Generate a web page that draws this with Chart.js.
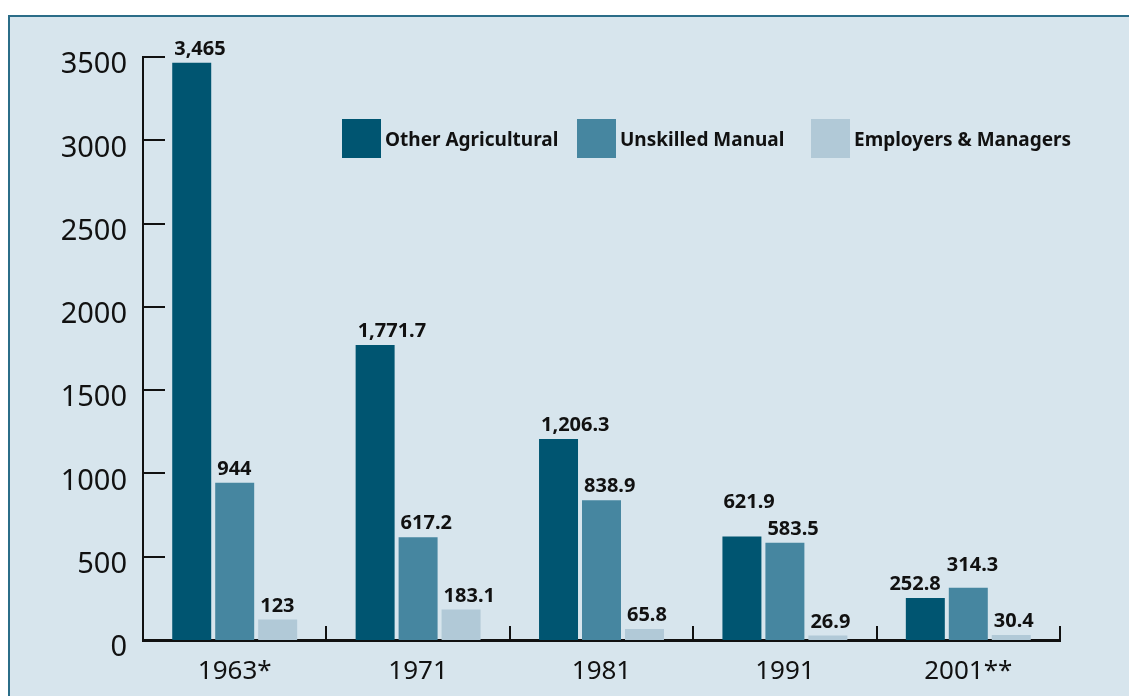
<!DOCTYPE html>
<html>
<head>
<meta charset="utf-8">
<script src="https://cdn.jsdelivr.net/npm/chart.js@4.4.1/dist/chart.umd.min.js"></script>
<style>
  html, body { margin: 0; padding: 0; background: #ffffff; overflow: hidden; }
  #panel {
    position: absolute; left: 8px; top: 15px; width: 1140px; height: 700px;
    background: #d7e5ed; border-top: 2px solid #2b6d88; border-left: 2px solid #2b6d88;
  }
  #chart { position: absolute; left: 0; top: 0; }
</style>
</head>
<body>
<div id="panel"></div>
<canvas id="chart" width="1129" height="696"></canvas>
<script>
// Census years (x categories)
const years = ['1963*', '1971', '1981', '1991', '2001**'];

const otherAgricultural = [3465, 1771.7, 1206.3, 621.9, 252.8];
const unskilledManual = [944, 617.2, 838.9, 583.5, 314.3];
const employersManagers = [123, 183.1, 65.8, 26.9, 30.4];

// Y axis ticks
const yTicks = [0, 500, 1000, 1500, 2000, 2500, 3000, 3500];

const colors = ['#005571', '#4686a0', '#b1c9d7'];
const FONT = '"Noto Sans", "DejaVu Sans", sans-serif';

function fmt(v) {
    return v.toLocaleString('en-US', { maximumFractionDigits: 1 });
}

// a few value labels are shifted in the original so they don't collide
function labelPlacement(di, i) {
    if (di === 0 && i === 3) return { align: 'left', dx: 1, lift: 20 };   // 621.9
    if (di === 1 && i === 4) return { align: 'left', dx: -2, lift: 9 };   // 314.3
    if (di === 0 && i === 4) return { align: 'right', dx: -4, lift: 0 };  // 252.8
    return { align: 'left', dx: 2, lift: 0 };
}

// tick marks pointing into the plot, category separators, value labels, legend
const decorations = {
    id: 'decorations',
    afterDraw(chart) {
        const ctx = chart.ctx;
        const y = chart.scales.y;
        const area = chart.chartArea;
        ctx.save();
        ctx.strokeStyle = '#111';
        ctx.lineWidth = 2;

        // y ticks, drawn inward
        yTicks.forEach(v => {
            const py = Math.round(y.getPixelForValue(v));
            ctx.beginPath();
            ctx.moveTo(area.left, py);
            ctx.lineTo(area.left + 22, py);
            ctx.stroke();
        });

        // category separators on the base line
        const step = (area.right - area.left) / years.length;
        for (let i = 1; i <= years.length; i++) {
            const px = Math.round(area.left + i * step);
            ctx.beginPath();
            ctx.moveTo(px, area.bottom);
            ctx.lineTo(px, area.bottom - 14);
            ctx.stroke();
        }

        // value labels above the bars
        ctx.fillStyle = '#111';
        ctx.font = 'bold 20px ' + FONT;
        ctx.textBaseline = 'alphabetic';
        chart.data.datasets.forEach((ds, di) => {
            const meta = chart.getDatasetMeta(di);
            meta.data.forEach((bar, i) => {
                const p = labelPlacement(di, i);
                const edge = p.align === 'right' ? bar.x + bar.width / 2 : bar.x - bar.width / 2;
                ctx.textAlign = p.align;
                ctx.fillText(fmt(ds.data[i]), edge + p.dx, bar.y - 8 - p.lift);
            });
        });

        // legend
        const legendX = [342, 577, 811];
        ctx.font = 'bold 19px ' + FONT;
        ctx.textAlign = 'left';
        chart.data.datasets.forEach((ds, di) => {
            ctx.fillStyle = ds.backgroundColor;
            ctx.fillRect(legendX[di], 119, 39, 39);
            ctx.fillStyle = '#111';
            ctx.fillText(ds.label, legendX[di] + 43, 146);
        });
        ctx.restore();
    }
};

const chart = new Chart(document.getElementById('chart'), {
    type: 'bar',
    data: {
        labels: years,
        datasets: [
            { label: 'Other Agricultural', data: otherAgricultural, backgroundColor: colors[0] },
            { label: 'Unskilled Manual', data: unskilledManual, backgroundColor: colors[1] },
            { label: 'Employers & Managers', data: employersManagers, backgroundColor: colors[2] }
        ]
    },
    options: {
        responsive: false,
        animation: false,
        devicePixelRatio: 1,
        categoryPercentage: 0.703,
        barPercentage: 0.907,
        layout: { padding: { top: 57, right: 69, bottom: 0, left: 0 } },
        plugins: {
            legend: { display: false },
            tooltip: { enabled: false }
        },
        scales: {
            x: {
                grid: { display: false },
                border: { display: true, color: '#111', width: 3 },
                ticks: {
                    color: '#111',
                    font: { family: FONT, size: 26 },
                    padding: 8,
                    maxRotation: 0
                },
                afterFit(s) { s.height = 56; }
            },
            y: {
                min: 0,
                max: 3500,
                afterBuildTicks(s) { s.ticks = yTicks.map(v => ({ value: v })); },
                grid: { display: false, drawTicks: false },
                border: { display: true, color: '#111', width: 2 },
                ticks: {
                    color: '#111',
                    font: { family: FONT, size: 29 },
                    padding: 16,
                    labelOffset: 8,
                    callback: v => String(v)
                },
                afterFit(s) { s.width = 143; }
            }
        }
    },
    plugins: [decorations]
});
</script>
</body>
</html>
